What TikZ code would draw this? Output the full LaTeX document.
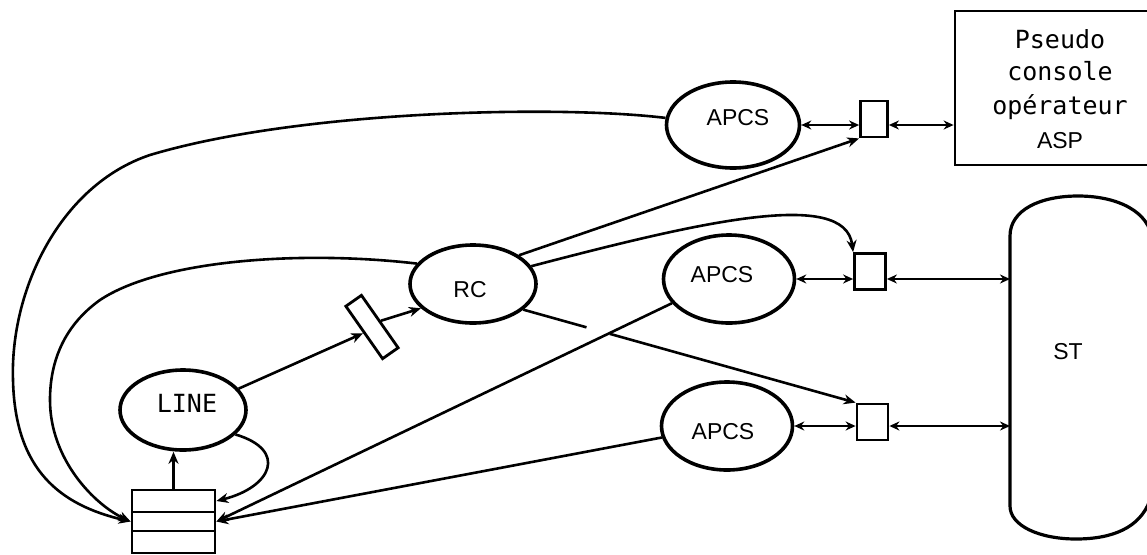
\documentclass[tikz,border=0pt]{standalone}
\usepackage{fontspec}
\setmainfont{Liberation Sans}
\newfontfamily\monofnt{DejaVu Sans Mono}
\usetikzlibrary{arrows.meta,shapes.geometric}
\newcommand\tshift[3]{\raisebox{#2}[\height][\depth]{\kern#1\relax #3\kern-#1\relax}}
\begin{document}
\begin{tikzpicture}[x=1pt,y=-1pt,
  lbl/.style={font=\fontsize{23}{27}\selectfont},
  mono/.style={font=\monofnt\fontsize{25}{34}\selectfont},
  proc/.style={ellipse, draw, line width=3.6pt, inner sep=0pt, lbl},
  port/.style={rectangle, draw, line width=2.8pt, minimum width=31pt, minimum height=36pt, inner sep=0pt},
  cell/.style={rectangle, draw, line width=2.8pt, minimum width=83pt, inner sep=0pt},
  bigbox/.style={rectangle, draw, line width=2.8pt, inner sep=0pt},
  stshape/.style={line width=3.2pt},
  conn/.style={line width=2.6pt},
  tip/.style={-{Stealth[length=12pt,width=10pt]}},
  both/.style={{Stealth[length=10pt,width=9pt]}-{Stealth[length=10pt,width=9pt]}},
]
\useasboundingbox (0,0) rectangle (1147,554);
\clip (0,0) rectangle (1147,554);

% process ellipses
\node[proc,minimum width=133pt,minimum height=86pt] (apcs1) at (733,125) {\tshift{5pt}{7pt}{APCS}};
\node[proc,minimum width=131pt,minimum height=88pt] (apcs2) at (729,279) {\tshift{-7pt}{4.5pt}{APCS}};
\node[proc,minimum width=131pt,minimum height=88pt] (apcs3) at (727,426) {\tshift{-4pt}{-5.5pt}{APCS}};
\node[proc,minimum width=126pt,minimum height=78pt] (rc) at (473,284) {\tshift{-3pt}{-6pt}{RC}};
\node[proc,minimum width=126pt,minimum height=80pt,mono] (line) at (183,410) {\tshift{4pt}{7pt}{LINE}};

% small ports
\node[port,minimum width=27pt] (sq1) at (874,119) {};
\node[port] (sq2) at (870,271.5) {};
\node[port] (sq3) at (872.5,422) {};

% pseudo console box
\node[bigbox,minimum width=210pt,minimum height=154pt,align=center,mono] (console) at (1060,88)
  {\tshift{0pt}{-2pt}{Pseudo}\\console\\opérateur\\{\rmfamily\fontsize{23}{34}\selectfont ASP}};

% ST store
\draw[stshape] (1152,240) .. controls (1150,212) and (1118,196) .. (1078,196)
  .. controls (1040,196) and (1010,210) .. (1010,236) -- (1010,506)
  .. controls (1010,526) and (1040,539) .. (1076,539)
  .. controls (1112,539) and (1140,528) .. (1150,500);
\node[lbl] (st) at (1068,352) {ST};
\coordinate (stedge) at (1010,352);

% queue
\node[cell,minimum height=22pt] (s1) at (173.5,501) {};
\node[cell,minimum height=19pt] (s2) at (173.5,521.5) {};
\node[cell,minimum height=22pt] (s3) at (173.5,542) {};

% slanted buffer
\node[bigbox,minimum width=64pt,minimum height=19pt,rotate=-55] (buf) at (372,327) {};

% connectors
\draw[conn,both] (apcs1.east) -- (sq1.west |- apcs1.east);
\draw[conn,both] (sq1.east |- apcs1.east) -- (console.west |- apcs1.east);
\draw[conn,both] (apcs2.east) -- (sq2.west |- apcs2.east);
\draw[conn,both] (sq2.east |- apcs2.east) -- (stedge |- apcs2.east);
\draw[conn,both] (apcs3.east) -- (sq3.west |- apcs3.east);
\draw[conn,both] (sq3.east |- apcs3.east) -- (stedge |- apcs3.east);

\draw[conn,tip] (rc.32) -- (sq1.south west);
\draw[conn,tip] (rc.17) .. controls (700,222) and (845,188) .. (sq2.north west);
\path (rc.-27) -- (sq3.north west) coordinate[pos=0.19] (gapA) coordinate[pos=0.26] (gapB);
\draw[conn] (rc.-27) -- (gapA);
\draw[conn,tip] (gapB) -- (sq3.north west);

\draw[conn,tip] (apcs2.203) -- (s2.east);
\draw[conn,tip] (apcs3.190) -- (s2.east);

\draw[conn,tip] (apcs1.174) .. controls (560,105) and (300,110) .. (150,155)
  .. controls (60,185) and (10,290) .. (13,380)
  .. controls (15,470) and (60,505) .. (s2.west);
\draw[conn,tip] (rc.160) .. controls (300,250) and (160,260) .. (100,300)
  .. controls (65,325) and (50,360) .. (50,400)
  .. controls (50,460) and (95,505) .. (s2.west);

\draw[conn,tip] (line.-25) .. controls (288,450) and (272,487) .. (s1.east);
\draw[conn,tip] (line.21) -- (buf.south);
\draw[conn,tip] (buf.north) -- (rc.205);
\draw[conn,tip] (s1.north) -- (s1.north |- line.south);
\end{tikzpicture}
\end{document}
